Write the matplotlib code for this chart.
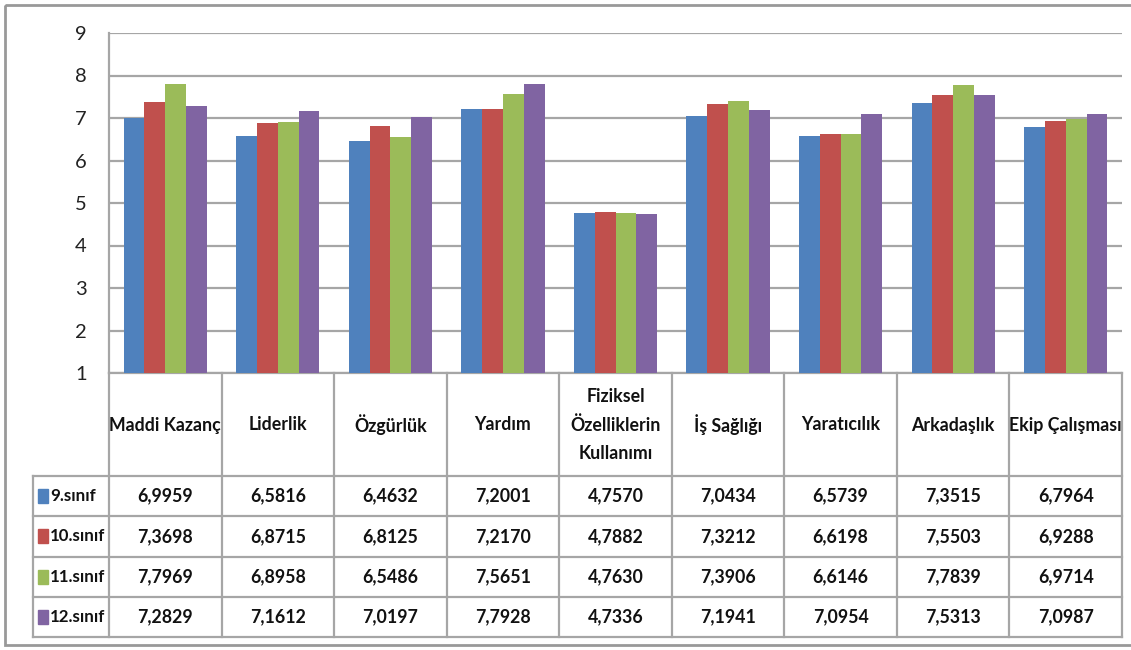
import matplotlib
matplotlib.use("Agg")
import matplotlib.pyplot as plt
from matplotlib.patches import Rectangle
from matplotlib.lines import Line2D
from matplotlib.transforms import blended_transform_factory
import numpy as np

categories = ["Maddi Kazanç", "Liderlik", "Özgürlük", "Yardım",
              "Fiziksel\nÖzelliklerin\nKullanımı", "İş Sağlığı",
              "Yaratıcılık", "Arkadaşlık", "Ekip Çalışması"]
series_names = ["9.sınıf", "10.sınıf", "11.sınıf", "12.sınıf"]
s9 = [6.9959, 6.5816, 6.4632, 7.2001, 4.7570, 7.0434, 6.5739, 7.3515, 6.7964]
s10 = [7.3698, 6.8715, 6.8125, 7.2170, 4.7882, 7.3212, 6.6198, 7.5503, 6.9288]
s11 = [7.7969, 6.8958, 6.5486, 7.5651, 4.7630, 7.3906, 6.6146, 7.7839, 6.9714]
s12 = [7.2829, 7.1612, 7.0197, 7.7928, 4.7336, 7.1941, 7.0954, 7.5313, 7.0987]
yticks = [1, 2, 3, 4, 5, 6, 7, 8, 9]

series = [s9, s10, s11, s12]
colors = ["#4F81BD", "#C0504D", "#9BBB59", "#8064A2"]

FONT = ["Lato", "DejaVu Sans"]
plt.rcParams['font.family'] = FONT

W, H = 1131, 650
fig = plt.figure(figsize=(W / 100, H / 100), dpi=100)

def fx(px):
    return px / W

def fy(py):
    return 1 - py / H

ov = fig.add_axes([0, 0, 1, 1], zorder=0)
ov.set_xlim(0, W)
ov.set_ylim(H, 0)
ov.axis("off")

ax_left, ax_right, ax_top, ax_bot = 109, 1122, 33, 373
ax = fig.add_axes([fx(ax_left), fy(ax_bot), fx(ax_right - ax_left), (ax_bot - ax_top) / H], zorder=1)
ax.patch.set_alpha(0)

n = len(categories)
x = np.arange(n)
bw = 0.185
for i, (s, c) in enumerate(zip(series, colors)):
    ax.bar(x + (i - 1.5) * bw, np.array(s) - 1, bottom=1, width=bw, color=c, zorder=3)

lc = "#A6A6A6"
lw = 1.6
ax.set_xlim(-0.5, n - 0.5)
ax.set_ylim(1, 9)
ax.set_yticks(yticks)
ax.set_yticklabels([str(t) for t in yticks], fontsize=14.5)
ax.tick_params(axis="y", length=0, pad=16, colors="#222222")
ax.set_xticks([])
ax.grid(axis="y", color=lc, linewidth=lw, zorder=0)
for sp in ["top", "right"]:
    ax.spines[sp].set_visible(False)
for sp in ["left", "bottom"]:
    ax.spines[sp].set_color(lc)
    ax.spines[sp].set_linewidth(lw)

# Table
tbl_left = 33
hdr_bot = 476
row_h = 40.3
tbl_bot = hdr_bot + row_h * 4
trans = blended_transform_factory(ax.transData, ov.transData)

for b in np.arange(n + 1) - 0.5:
    ov.add_line(Line2D([b, b], [ax_bot, tbl_bot], transform=trans, color=lc, lw=lw))
ov.add_line(Line2D([tbl_left, tbl_left], [hdr_bot, tbl_bot], color=lc, lw=lw))
for k in range(5):
    yy = hdr_bot + k * row_h
    ov.add_line(Line2D([tbl_left, ax_right], [yy, yy], color=lc, lw=lw))

fs = 12.8
for i, cat in enumerate(categories):
    ov.text(i, (ax_bot + hdr_bot) / 2 + 0.5, cat, transform=trans, ha="center", va="center",
            fontsize=fs, fontweight="bold", color="#111111", linespacing=1.75)

for r, (name, s, c) in enumerate(zip(series_names, series, colors)):
    yc = hdr_bot + (r + 0.5) * row_h
    ov.add_patch(Rectangle((38, yc - 7), 10, 14, color=c))
    ov.text(50, yc, name, ha="left", va="center", fontsize=12.2, fontweight="bold", color="#111111")
    for i, v in enumerate(s):
        ov.text(i, yc, f"{v:.4f}".replace(".", ","), transform=trans, ha="center", va="center",
                fontsize=fs, fontweight="bold", color="#111111")

# outer frame (right edge runs off the canvas as in the reference)
ov.add_patch(Rectangle((5, 5), W + 10, H - 10, fill=False, edgecolor="#999999", lw=2))

fig.savefig("out.png", dpi=100, facecolor="white")
